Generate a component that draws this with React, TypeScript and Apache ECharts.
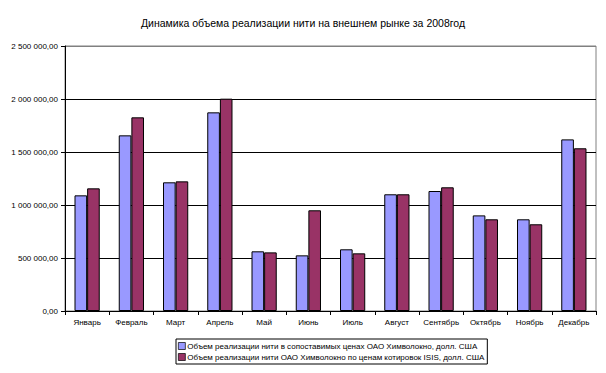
import React, { useEffect, useRef } from "react";
import * as echarts from "echarts";

const titleText = "Динамика объема реализации нити на внешнем рынке за 2008год";
const months = ["Январь", "Февраль", "Март", "Апрель", "Май", "Июнь", "Июль", "Август", "Сентябрь", "Октябрь", "Ноябрь", "Декабрь"];
const seriesNames = [
  "Объем реализации нити в сопоставимых ценах ОАО Химволокно, долл. США",
  "Объем реализации нити ОАО Химволокно по ценам котировок ISIS, долл. США",
];
const comparablePrices = [1091000, 1657000, 1214000, 1874000, 563000, 525000, 582000, 1101000, 1132000, 902000, 865000, 1619000];
const isisPrices = [1157000, 1827000, 1223000, 2003000, 553000, 950000, 544000, 1101000, 1167000, 865000, 818000, 1535000];
const yMin = 0;
const yMax = 2500000;
const yInterval = 500000;

function fmt(v: number): string {
  const s = Math.round(v).toString().replace(/\B(?=(\d{3})+(?!\d))/g, " ");
  return s + ",00";
}

export default function App() {
  const ref = useRef<HTMLDivElement>(null);
  useEffect(() => {
    document.body.style.margin = "0";
    if (!ref.current) return;
    const chart = echarts.init(ref.current, undefined, { renderer: "svg" });
    const font = "Arial, 'Liberation Sans', sans-serif";
    chart.setOption({
      animation: false,
      backgroundColor: "#ffffff",
      textStyle: { fontFamily: font },
      title: {
        text: titleText,
        left: "center",
        top: 12,
        textStyle: { fontSize: 10.5, fontWeight: "normal", color: "#000", fontFamily: font },
      },
      grid: {
        left: 65,
        top: 46,
        width: 531,
        height: 265,
        show: true,
        borderColor: "#808080",
        borderWidth: 1,
      },
      xAxis: {
        type: "category",
        data: months,
        axisLine: { lineStyle: { color: "#000", width: 1 } },
        axisTick: { show: true, length: 4, lineStyle: { color: "#000" } },
        axisLabel: { color: "#000", fontSize: 8, margin: 7, interval: 0, fontFamily: font },
      },
      yAxis: {
        type: "value",
        min: yMin,
        max: yMax,
        interval: yInterval,
        axisLine: { show: true, lineStyle: { color: "#000", width: 1 } },
        axisTick: { show: true, length: 4, lineStyle: { color: "#000" } },
        axisLabel: { color: "#000", fontSize: 8, margin: 7, formatter: (v: number) => fmt(v), fontFamily: font },
        splitLine: { show: true, lineStyle: { color: ["#000", "#000", "#000", "#000", "#000", "#808080"], width: 1 } },
      },
      legend: {
        orient: "vertical",
        left: 176,
        top: 339,
        itemWidth: 7,
        itemHeight: 7,
        itemGap: 3,
        padding: [3, 3, 3, 2],
        icon: "rect",
        borderColor: "#000",
        borderWidth: 1,
        itemStyle: { borderWidth: 0.7 },
        textStyle: { fontSize: 8, color: "#000", padding: [0, 0, 0, -3], fontFamily: font },
        data: seriesNames,
      },
      series: [
        {
          name: seriesNames[0],
          type: "bar",
          data: comparablePrices,
          barGap: "0%",
          barCategoryGap: "43%",
          itemStyle: { color: "#9999FF", borderColor: "#000", borderWidth: 1 },
        },
        {
          name: seriesNames[1],
          type: "bar",
          data: isisPrices,
          barGap: "0%",
          barCategoryGap: "43%",
          itemStyle: { color: "#993366", borderColor: "#000", borderWidth: 1 },
        },
      ],
    });
    return () => chart.dispose();
  }, []);
  return <div ref={ref} style={{ width: 606, height: 373, position: "absolute", left: 0, top: 0 }} />;
}
